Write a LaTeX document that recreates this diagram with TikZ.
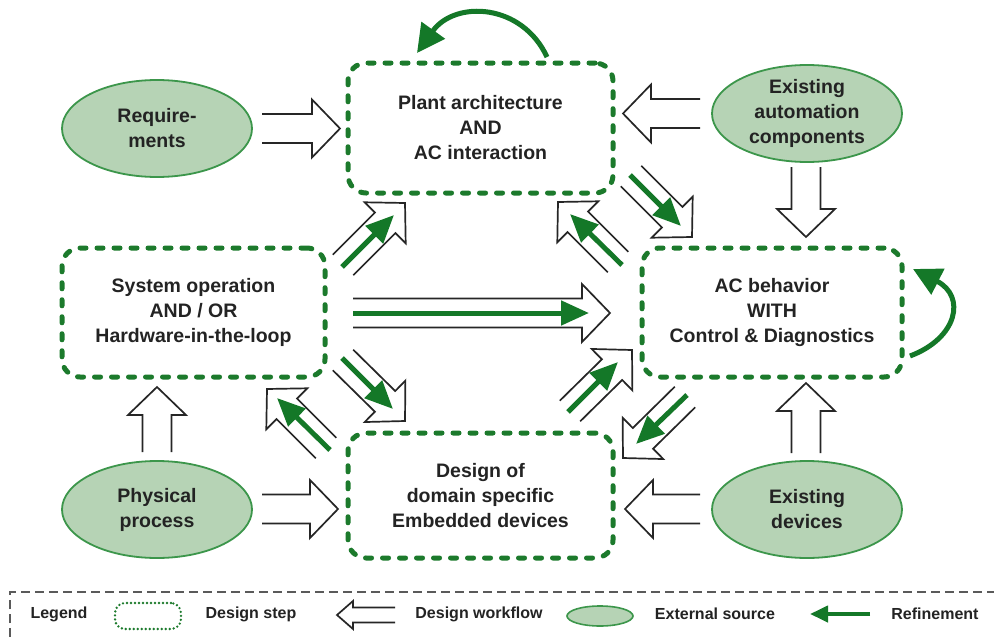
\documentclass[tikz,border=0pt]{standalone}
\usepackage{fontspec}
\setmainfont{Liberation Sans}
\usetikzlibrary{calc,arrows.meta,shapes.geometric}
\definecolor{boxgreen}{RGB}{28,122,44}
\definecolor{refgreen}{RGB}{20,120,40}
\definecolor{extfill}{RGB}{182,211,181}
\definecolor{extborder}{RGB}{60,150,75}
\definecolor{txtgray}{RGB}{35,35,35}
\definecolor{leggray}{RGB}{90,90,90}
\newcommand{\wflow}[5]{%
  \path ($(#2)!#5!(#1)$) coordinate (wfH);
  \draw[wfline] ($(#1)!#3!90:(#2)$) -- ($(wfH)!#3!90:(#2)$) -- ($(wfH)!#4!90:(#2)$) -- (#2)
     -- ($(wfH)!#4!-90:(#2)$) -- ($(wfH)!#3!-90:(#2)$) -- ($(#1)!#3!-90:(#2)$);}
\tikzset{
  stepbox/.style={draw=boxgreen, line width=5pt, dash pattern=on 6pt off 11pt, line cap=round,
    rounded corners=18pt, align=center, text=txtgray, font=\fontsize{19.5}{25}\selectfont\bfseries},
  extsrc/.style={ellipse, draw=extborder, fill=extfill, line width=1.8pt, minimum width=190pt,
    minimum height=97pt, inner sep=0pt, align=center, text=txtgray, font=\fontsize{19.5}{25}\selectfont\bfseries},
  wfline/.style={draw=black!85, line width=1.7pt, line join=miter},
  refine/.style={draw=refgreen, line width=5pt, -{Triangle[length=28pt,width=24pt]}},
  legtext/.style={text=txtgray, font=\fontsize{16}{19}\selectfont\bfseries, inner sep=0pt}
}
\begin{document}
\begin{tikzpicture}[x=1pt,y=-1pt]
\useasboundingbox (0,0) rectangle (994,637);
\fill[white] (0,0) rectangle (994,637);

% design steps
\node[stepbox, minimum width=265pt, minimum height=130pt] (plant) at (480.5,128) {Plant architecture\\AND\\AC interaction};
\node[stepbox, minimum width=263pt, minimum height=129pt] (sys) at (193.5,312.5) {System operation\\AND / OR\\Hardware-in-the-loop};
\node[stepbox, minimum width=260pt, minimum height=129pt] (ac) at (772,312.5) {AC behavior\\WITH\\Control \& Diagnostics};
\node[stepbox, minimum width=265pt, minimum height=125pt] (design) at (480.5,495.5) {Design of\\domain specific\\Embedded devices};

% external sources
\node[extsrc] (req) at (157,128.5) {Require-\\ments};
\node[extsrc] (eac) at (807,113.5) {Existing\\automation\\components};
\node[extsrc] (phys) at (157,509.5) {Physical\\process};
\node[extsrc] (edev) at (807,509.5) {Existing\\devices};

% workflow arrow ends
\coordinate (w1s) at (262,128.5);  \coordinate (w1e) at (340,128.5);
\coordinate (w2s) at (700,113.5);  \coordinate (w2e) at (623,113.5);
\coordinate (w3s) at (806,167);    \coordinate (w3e) at (806,237);
\coordinate (w4s) at (806,453);    \coordinate (w4e) at (806,383);
\coordinate (w5s) at (700,509);    \coordinate (w5e) at (625,509);
\coordinate (w6s) at (262,509);    \coordinate (w6e) at (338,509);
\coordinate (w7s) at (157,452);    \coordinate (w7e) at (157,387);
\coordinate (w8s) at (343,265);    \coordinate (w8e) at (405,203);
\coordinate (w9s) at (326,448);    \coordinate (w9e) at (267,389);
\coordinate (w10s) at (343,360);   \coordinate (w10e) at (405,421);
\coordinate (w11s) at (570,411);   \coordinate (w11e) at (632,350);
\coordinate (w12s) at (685,397);   \coordinate (w12e) at (623,458);
\coordinate (w13s) at (631,176);   \coordinate (w13e) at (692,237);
\coordinate (w14s) at (618,262);   \coordinate (w14e) at (558,202);
\coordinate (w15s) at (353,313);   \coordinate (w15e) at (610,313);

\foreach \i in {1,...,15}{\wflow{w\i s}{w\i e}{14.5pt}{29pt}{28pt}}

% refinement arrow ends
\coordinate (g8s) at (342,267);   \coordinate (g8e) at (394,215);
\coordinate (g9s) at (330,450);   \coordinate (g9e) at (277,398);
\coordinate (g10s) at (342,358);  \coordinate (g10e) at (393,409);
\coordinate (g11s) at (568,412);  \coordinate (g11e) at (618,362);
\coordinate (g12s) at (687,395);  \coordinate (g12e) at (636,444);
\coordinate (g13s) at (630,175);  \coordinate (g13e) at (681,226);
\coordinate (g14s) at (622,265);  \coordinate (g14e) at (570,214);
\coordinate (g15s) at (353,313);  \coordinate (g15e) at (589,313);
\foreach \i in {8,...,15}{\draw[refine] (g\i s) -- (g\i e);}

% self refinement loops
\coordinate (lp1s) at (547,57);  \coordinate (lp1e) at (417,53);
\draw[refgreen, line width=5pt, -{Triangle[length=28pt,width=28pt]}]
  (lp1s) .. controls (522,3) and (455,0) .. (lp1e);
\coordinate (lp2s) at (910,356);  \coordinate (lp2e) at (913,269);
\draw[refgreen, line width=5pt, -{Triangle[length=28pt,width=28pt]}]
  (lp2s) .. controls (958,338) and (966,296) .. (lp2e);

% legend
\coordinate (lgA) at (10,637); \coordinate (lgB) at (10,592); \coordinate (lgC) at (994,592);
\draw[leggray, line width=1.6pt, dash pattern=on 9pt off 5pt] (lgA) -- (lgB) -- (lgC);
\node[legtext] (lg1) at (59,614) {Legend};
\node[draw=boxgreen, line width=2.6pt, dash pattern=on 0pt off 4pt, line cap=round,
  rounded corners=10pt, minimum width=66pt, minimum height=26pt, inner sep=0pt] (lgstep) at (148,616) {};
\node[legtext] (lg2) at (251,614) {Design step};
\coordinate (lwfs) at (395,615); \coordinate (lwfe) at (337,615);
\wflow{lwfs}{lwfe}{7.5pt}{14pt}{16pt}
\node[legtext] (lg3) at (479,614) {Design workflow};
\node[ellipse, draw=extborder, fill=extfill, line width=1.6pt, minimum width=66pt, minimum height=20pt, inner sep=0pt] (lgext) at (600,616) {};
\node[legtext] (lg4) at (715,614) {External source};
\coordinate (lrs) at (870,614); \coordinate (lre) at (810,614);
\draw[refgreen, line width=4pt, -{Triangle[length=18pt,width=16pt]}] (lrs) -- (lre);
\node[legtext] (lg5) at (935,614) {Refinement};
\end{tikzpicture}
\end{document}
